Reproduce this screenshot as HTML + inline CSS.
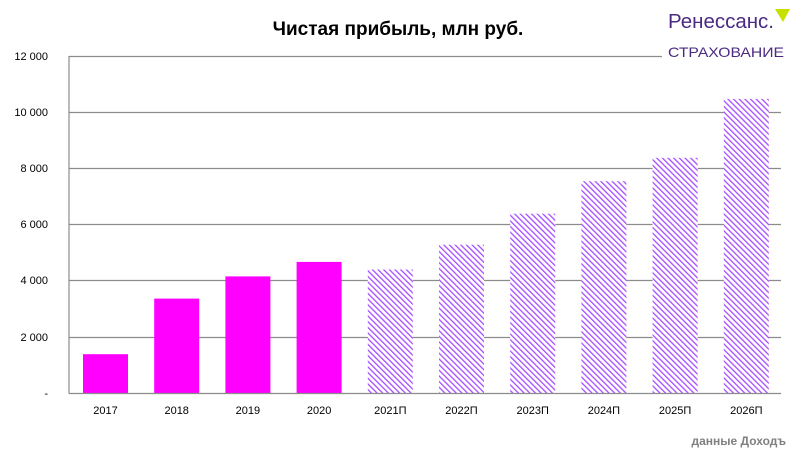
<!DOCTYPE html>
<html><head><meta charset="utf-8"><style>
html,body{margin:0;padding:0;background:#fff;}
</style></head><body>
<svg width="796" height="454" viewBox="0 0 796 454" xmlns="http://www.w3.org/2000/svg" font-family="'Liberation Sans', sans-serif">
<defs>
<pattern id="h" patternUnits="userSpaceOnUse" width="4" height="4" patternTransform="rotate(-45)">
<rect width="4" height="4" fill="#fff"/>
<rect x="0" y="0" width="1.3" height="4" fill="#a64dff"/>
</pattern>
</defs>
<rect width="796" height="454" fill="#fff"/>
<text x="398" y="35" text-anchor="middle" font-size="19" font-weight="bold" fill="#000">Чистая прибыль, млн руб.</text>
<g stroke="#8c8c8c" stroke-width="1.2">
<line x1="69" y1="56.5" x2="662" y2="56.5"/>
<line x1="69" y1="112.5" x2="781" y2="112.5"/>
<line x1="69" y1="168.5" x2="781" y2="168.5"/>
<line x1="69" y1="224.5" x2="781" y2="224.5"/>
<line x1="69" y1="280.5" x2="781" y2="280.5"/>
<line x1="69" y1="337.5" x2="781" y2="337.5"/>
</g>
<g font-size="11" fill="#000" text-anchor="end">
<text x="48" y="60">12 000</text>
<text x="48" y="116">10 000</text>
<text x="48" y="172">8 000</text>
<text x="48" y="228">6 000</text>
<text x="48" y="284">4 000</text>
<text x="48" y="341">2 000</text>
<text x="48" y="397">-</text>
</g>
<g fill="#ff00ff">
<rect x="83" y="354.2" width="45" height="39"/>
<rect x="154.2" y="298.6" width="45" height="94.6"/>
<rect x="225.4" y="276.4" width="45" height="116.8"/>
<rect x="296.6" y="261.9" width="45" height="131.3"/>
</g>
<g fill="url(#h)">
<rect x="367.8" y="269.5" width="45" height="123.7"/>
<rect x="439" y="244.7" width="45" height="148.5"/>
<rect x="510.2" y="213.7" width="45" height="179.5"/>
<rect x="581.4" y="181.2" width="45" height="212"/>
<rect x="652.6" y="157.8" width="45" height="235.4"/>
<rect x="723.8" y="98.9" width="45" height="294.3"/>
</g>
<line x1="69" y1="56" x2="69" y2="393.5" stroke="#8c8c8c" stroke-width="1.2"/>
<line x1="69" y1="393.5" x2="781" y2="393.5" stroke="#8c8c8c" stroke-width="1.2"/>
<g font-size="11" fill="#000" text-anchor="middle">
<text x="105.5" y="414">2017</text>
<text x="176.7" y="414">2018</text>
<text x="247.9" y="414">2019</text>
<text x="319.1" y="414">2020</text>
<text x="390.3" y="414">2021П</text>
<text x="461.5" y="414">2022П</text>
<text x="532.7" y="414">2023П</text>
<text x="603.9" y="414">2024П</text>
<text x="675.1" y="414">2025П</text>
<text x="746.3" y="414">2026П</text>
</g>
<text x="786" y="445" text-anchor="end" font-size="12" font-weight="bold" fill="#808080">данные Доходъ</text>
<text x="668" y="28" font-size="20" fill="#4b2a82" textLength="106" lengthAdjust="spacingAndGlyphs">Ренессанс.</text>
<polygon points="775,9 790,9 783,22" fill="#c8e000"/>
<text x="668" y="57" font-size="14" fill="#4b2a82" textLength="116" lengthAdjust="spacingAndGlyphs">СТРАХОВАНИЕ</text>
</svg>
</body></html>
